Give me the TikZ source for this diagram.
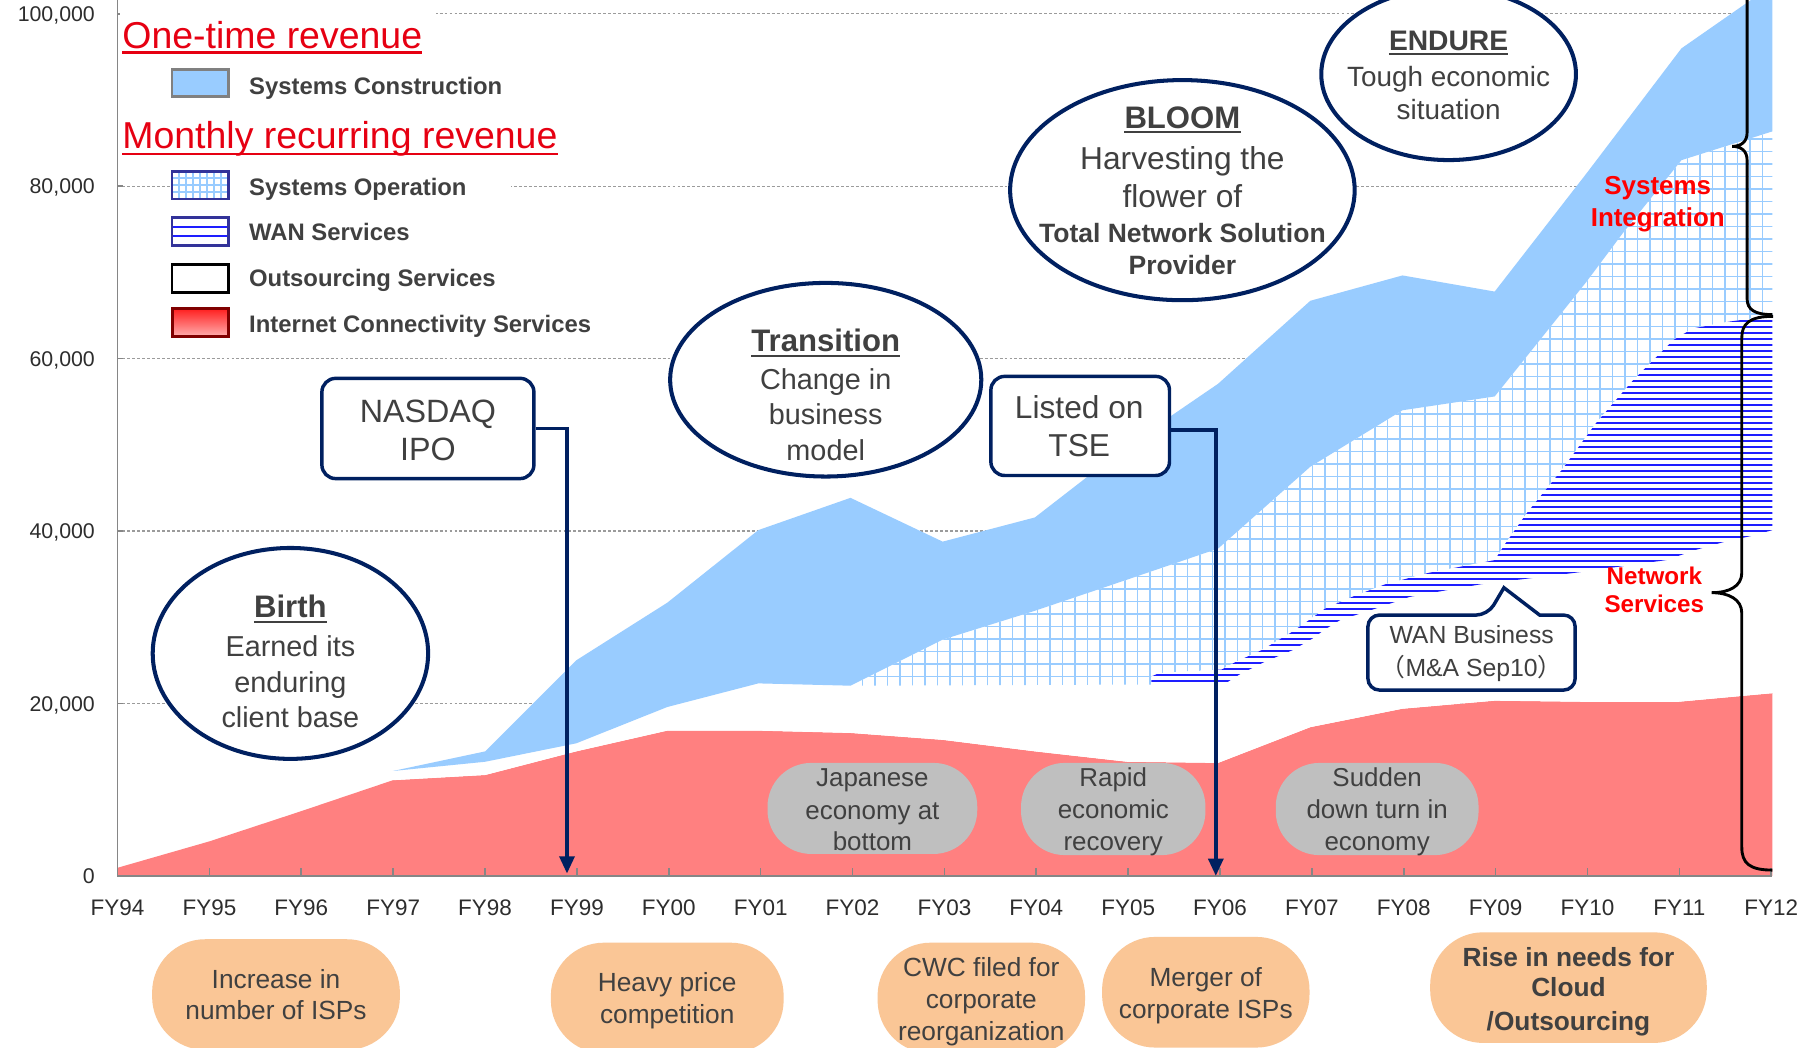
\documentclass[tikz,border=0pt]{standalone}
\usepackage{fontspec}
\setmainfont{Liberation Sans}
\newfontfamily\cjkfont{Noto Sans CJK JP}
\usetikzlibrary{arrows.meta,shapes.geometric}
\definecolor{navy}{RGB}{0,32,96}
\definecolor{txtgray}{RGB}{64,64,64}
\definecolor{axtxt}{RGB}{45,45,45}
\definecolor{sysblue}{RGB}{153,204,255}
\definecolor{icsred}{RGB}{255,128,128}
\definecolor{wanblue}{RGB}{30,30,255}
\definecolor{gridgray}{RGB}{155,155,155}
\definecolor{axisgray}{RGB}{134,134,134}
\definecolor{pillgray}{RGB}{191,191,191}
\definecolor{peach}{RGB}{250,198,150}
\definecolor{legred}{RGB}{230,0,18}
\definecolor{opborder}{RGB}{51,51,153}
\definecolor{darkred}{RGB}{128,0,0}
\definecolor{swgray}{RGB}{128,128,128}
\definecolor{brightred}{RGB}{255,0,0}
\newcommand\fs[1]{\fontsize{#1}{#1}\selectfont}
\begin{document}
\begin{tikzpicture}[x=1pt,y=-1pt,
  lbl/.style={anchor=base, inner sep=0pt, text=txtgray},
  ell/.style={ellipse, draw=navy, line width=3.5pt, fill=white, inner sep=0pt},
  callbox/.style={rectangle, rounded corners=12pt, draw=navy, line width=3pt, fill=white, inner sep=0pt},
  graypill/.style={rectangle, rounded corners=38pt, fill=pillgray, inner sep=0pt},
  peachpill/.style={rectangle, rounded corners=46pt, fill=peach, inner sep=0pt},
  gridln/.style={draw=gridgray, line width=1pt, dash pattern=on 2.5pt off 1.8pt},
  opgrid/.style={draw=sysblue, line width=1.3pt},
  wanline/.style={draw=wanblue, line width=1.6pt},
  conn/.style={draw=navy, line width=3pt, -{Triangle[width=13pt,length=15pt]}},
  bracestyle/.style={draw=black, line width=2.5pt},
  ttl/.style={draw=txtgray, line width=1.8pt},
]
\useasboundingbox (0,0) rectangle (1568,909);
\clip (0,0) rectangle (1568,909);
\fill[white] (0,0) rectangle (1568,909);

% gridlines
\foreach \v in {12,161.6,311.2,460.8,610.4} \draw[gridln] (102,\v) -- (1538,\v);

% red: internet connectivity
\fill[icsred] (102,760) -- (102,753) -- (182,730) -- (261,704) -- (341,677) -- (421,672.5) -- (500,652) -- (579,634) -- (658,634) -- (738,636) -- (818,642) -- (898,652) -- (978,661) -- (1057,662) -- (1137,631) -- (1217,615) -- (1297,608) -- (1377,609) -- (1456,609) -- (1538,601.5) -- (1538,760) -- cycle;

% outsourcing (white)
\fill[white] (341,677) -- (421,672.5) -- (500,652) -- (579,634) -- (658,634) -- (738,636) -- (818,642) -- (898,652) -- (978,661) -- (1057,662) -- (1137,631) -- (1217,615) -- (1297,608) -- (1377,609) -- (1456,609) -- (1538,601.5) -- (1538,460) -- (1520,465) -- (1497,470) -- (1472,477) -- (1446,486) -- (1367,497) -- (1285,507) -- (1256,512) -- (1223,518) -- (1194,528) -- (1163,538) -- (1150,546) -- (1139,554) -- (1122,564) -- (1097,574.5) -- (1076,585) -- (1068,590) -- (1062,594) -- (738,595) -- (658,593) -- (579,613.5) -- (500,645) -- (421,661) -- (341,669) -- cycle;

% systems operation (grid)
\begin{scope}
\clip (738,595) -- (999,594) -- (999,587) -- (1006,584) -- (1060,581) -- (1072,574.5) -- (1095,564) -- (1120,549) -- (1136,538) -- (1150,528) -- (1173,518) -- (1202,507) -- (1240,497) -- (1297,486) -- (1306,472) -- (1325,445) -- (1355,408) -- (1385,367) -- (1417,330) -- (1452,295) -- (1469,285) -- (1501,279) -- (1538,274) -- (1538,114) -- (1459,139) -- (1408,202.5) -- (1377,244) -- (1297,344) -- (1217,356) -- (1137,405) -- (1057,476) -- (978,503) -- (898,530) -- (818,555) -- cycle;
\fill[white] (700,80) rectangle (1560,620);
\foreach \k in {-25,...,50} \draw[opgrid] ({997.9+10.85*\k},90) -- ({997.9+10.85*\k},612);
\foreach \k in {-36,...,12} \draw[opgrid] (720,{478.7+10.85*\k}) -- (1550,{478.7+10.85*\k});
\end{scope}

% WAN services (horizontal lines)
\begin{scope}
\clip (999,594) -- (999,587) -- (1006,584) -- (1060,581) -- (1072,574.5) -- (1095,564) -- (1120,549) -- (1136,538) -- (1150,528) -- (1173,518) -- (1202,507) -- (1240,497) -- (1297,486) -- (1306,472) -- (1325,445) -- (1355,408) -- (1385,367) -- (1417,330) -- (1452,295) -- (1469,285) -- (1501,279) -- (1538,274) -- (1538,460) -- (1520,465) -- (1497,470) -- (1472,477) -- (1446,486) -- (1367,497) -- (1285,507) -- (1256,512) -- (1223,518) -- (1194,528) -- (1163,538) -- (1150,546) -- (1139,554) -- (1122,564) -- (1097,574.5) -- (1076,585) -- (1068,590) -- (1062,594) -- cycle;
\fill[white] (990,260) rectangle (1550,600);
\foreach \k in {-46,...,18} \draw[wanline] (990,{497+5.2*\k}) -- (1550,{497+5.2*\k});
\end{scope}

% systems construction (blue)
\fill[sysblue] (341,669) -- (421,652) -- (500,573) -- (579,523) -- (658,460) -- (738,432) -- (818,470) -- (898,449) -- (978,387) -- (1057,333) -- (1137,261) -- (1217,239) -- (1297,253) -- (1377,150) -- (1459,42) -- (1538,-13) -- (1538,114) -- (1459,139) -- (1408,202.5) -- (1377,244) -- (1297,344) -- (1217,356) -- (1137,405) -- (1057,476) -- (978,503) -- (898,530) -- (818,555) -- (738,595) -- (658,593) -- (579,613.5) -- (500,645) -- (421,661) -- cycle;

% axes
\draw[axisgray, line width=1.6pt] (102,0) -- (102,760) -- (1538,760);
\foreach \i in {0,...,18} \draw[axisgray, line width=1.4pt] ({102+79.72*\i},760) -- ++(0,-7);
\foreach \v in {12,161.6,311.2,460.8,610.4} \draw[axisgray, line width=1.4pt] (102,\v) -- (107,\v);

% y labels
\foreach \v/\t/\n in {12/{100,000}/ya,161.6/{80,000}/yb,311.2/{60,000}/yc,460.8/{40,000}/yd,610.4/{20,000}/ye,760/0/yf}
  \node[anchor=base east, inner sep=0pt, text=axtxt, font={\fs{18.5}}] (\n) at (82.5,\v+6.7) {\t};
% x labels
\foreach \i/\t in {0/FY94,1/FY95,2/FY96,3/FY97,4/FY98,5/FY99,6/FY00,7/FY01,8/FY02,9/FY03,10/FY04,11/FY05,12/FY06,13/FY07,14/FY08,15/FY09,16/FY10,17/FY11,18/FY12}
  \node[anchor=base, inner sep=0pt, text=axtxt, font={\fs{19.5}}] (fy\i) at ({102+79.72*\i},794) {\t};

% legend
\fill[white] (104,4) rectangle (378,52);
\fill[white] (199,150) rectangle (443,174);
\node[lbl, anchor=base west, text=legred, font={\fs{32.5}}] (onetime) at (106,42) {One-time revenue};
\draw[legred, line width=2.3pt] ([yshift=-3.4pt]onetime.base west) -- ([yshift=-3.4pt]onetime.base east);
\node[lbl, anchor=base west, text=legred, font={\fs{32.5}}] (monthly) at (106,128.7) {Monthly recurring revenue};
\draw[legred, line width=2.3pt] ([yshift=-4.9pt]monthly.base west) -- ([yshift=-4.9pt]monthly.base east);

\fill[sysblue] (149.3,60) rectangle (198,84);
\draw[swgray, line width=2.4pt] (149.3,60) rectangle (198,84);
\fill[white] (149.3,148.5) rectangle (198,172.7);
\begin{scope}
\clip (149.3,148.5) rectangle (198,172.7);
\foreach \k in {1,...,7} \draw[sysblue, line width=1.6pt] ({149.3+6.1*\k},148.5) -- ++(0,24.2);
\foreach \k in {1,2,3} \draw[sysblue, line width=1.6pt] (149.3,{148.5+6.05*\k}) -- ++(48.7,0);
\end{scope}
\draw[opborder, line width=2.4pt] (149.3,148.5) rectangle (198,172.7);
\fill[white] (149.3,188.6) rectangle (198,213);
\draw[wanblue, line width=1.8pt] (149.3,196.7) -- (198,196.7) (149.3,204.9) -- (198,204.9);
\draw[opborder, line width=2.4pt] (149.3,188.6) rectangle (198,213);
\draw[black, line width=2.4pt, fill=white] (149.3,229.4) rectangle (198,253.7);
\shade[top color={rgb,255:red,255;green,30;blue,30}, bottom color={rgb,255:red,255;green,175;blue,175}] (149.3,267.6) rectangle (198,292.1);
\draw[darkred, line width=2.6pt] (149.3,267.6) rectangle (198,292.1);

\node[lbl, anchor=base west, font={\bfseries\fs{20.7}}] (lg1) at (216,82.4) {Systems Construction};
\node[lbl, anchor=base west, font={\bfseries\fs{20.7}}] (lg2) at (216,170) {Systems Operation};
\node[lbl, anchor=base west, font={\bfseries\fs{20.7}}] (lg3) at (216,209) {WAN Services};
\node[lbl, anchor=base west, font={\bfseries\fs{20.7}}] (lg4) at (216,249) {Outsourcing Services};
\node[lbl, anchor=base west, font={\bfseries\fs{20.7}}] (lg5) at (216,288.7) {Internet Connectivity Services};

% ellipses
\node[ell, minimum width=239pt, minimum height=183pt] (birth) at (252,567) {};
\node[ell, minimum width=270pt, minimum height=168pt] (transition) at (716.5,329.5) {};
\node[ell, minimum width=299pt, minimum height=191pt] (bloom) at (1026,165) {};
\node[ell, minimum width=221pt, minimum height=149pt] (endure) at (1257,64.4) {};

\node[lbl, font={\bfseries\fs{27}}] (birthT) at (252,536) {Birth};
\draw[ttl] ([yshift=-3.5pt]birthT.base west) -- ([yshift=-3.5pt]birthT.base east);
\node[lbl, font={\fs{25}}] (birth1) at (252,570) {Earned its};
\node[lbl, font={\fs{25}}] (birth2) at (252,600.5) {enduring};
\node[lbl, font={\fs{25}}] (birth3) at (252,631) {client base};

\node[lbl, font={\bfseries\fs{27}}] (transT) at (716.5,305.3) {Transition};
\draw[ttl] ([yshift=-3.5pt]transT.base west) -- ([yshift=-3.5pt]transT.base east);
\node[lbl, font={\fs{25}}] (trans1) at (716.5,338.4) {Change in};
\node[lbl, font={\fs{25}}] (trans2) at (716.5,368.4) {business};
\node[lbl, font={\fs{25}}] (trans3) at (716.5,400) {model};

\node[lbl, font={\bfseries\fs{27}}] (bloomT) at (1026,111.4) {BLOOM};
\draw[ttl] ([yshift=-3.5pt]bloomT.base west) -- ([yshift=-3.5pt]bloomT.base east);
\node[lbl, font={\fs{27.5}}] (bloom1) at (1026,147.5) {Harvesting the};
\node[lbl, font={\fs{27.5}}] (bloom2) at (1026,180) {flower of};
\node[lbl, font={\bfseries\fs{23}}] (bloom3) at (1026,210.6) {Total Network Solution};
\node[lbl, font={\bfseries\fs{23}}] (bloom4) at (1026,238.6) {Provider};

\node[lbl, font={\bfseries\fs{24.5}}] (endT) at (1257,43.4) {ENDURE};
\draw[ttl] ([yshift=-3.5pt]endT.base west) -- ([yshift=-3.5pt]endT.base east);
\node[lbl, font={\fs{24.2}}] (end1) at (1257,75.2) {Tough economic};
\node[lbl, font={\fs{24.2}}] (end2) at (1257,103.6) {situation};

% boxes
\node[callbox, minimum width=184pt, minimum height=87pt] (nasdaq) at (371.3,371.8) {};
\node[callbox, minimum width=155pt, minimum height=86pt] (tse) at (937.3,369.6) {};
\node[lbl, font={\fs{28}}] (nas1) at (371.3,366.8) {NASDAQ};
\node[lbl, font={\fs{28}}] (nas2) at (371.3,399.4) {IPO};
\node[lbl, font={\fs{27.5}}] (tse1) at (936.5,363.5) {Listed on};
\node[lbl, font={\fs{27.5}}] (tse2) at (936.5,395.7) {TSE};

\coordinate (nasdaqtip) at (492,758);
\coordinate (tsetip) at (1055,760);
\draw[conn] (nasdaq.east) -| (nasdaqtip);
\draw[conn] ([yshift=-3.4pt]tse.east) -| (tsetip);

% WAN callout
\draw[navy, line width=3pt, fill=white, rounded corners=10pt] (1187,566) -- (1187,533.7) -- (1291,533.7) [sharp corners] -- (1305,510) -- (1336,533.7) [rounded corners=10pt] -- (1366.8,533.7) -- (1366.8,598.8) -- (1187,598.8) -- cycle;
\node[lbl, font={\fs{21.5}}] (wan1) at (1277,558.3) {WAN Business};
\node[lbl, font={\fs{21.5}}] (wan2) at (1277,587) {{\cjkfont （}M\&A Sep10{\cjkfont ）}};

% gray pills
\node[graypill, minimum width=182pt, minimum height=79pt] (jpn) at (757,701.5) {};
\node[graypill, minimum width=160pt, minimum height=80pt] (rapid) at (966,702) {};
\node[graypill, minimum width=176pt, minimum height=80pt] (sudden) at (1195,702) {};
\node[lbl, font={\fs{22.5}}] (jpn1) at (757,682.8) {Japanese};
\node[lbl, font={\fs{22.5}}] (jpn2) at (757,710.8) {economy at};
\node[lbl, font={\fs{22.5}}] (jpn3) at (757,738.3) {bottom};
\node[lbl, font={\fs{22.5}}] (rap1) at (966,682.6) {Rapid};
\node[lbl, font={\fs{22.5}}] (rap2) at (966,710.3) {economic};
\node[lbl, font={\fs{22.5}}] (rap3) at (966,738) {recovery};
\node[lbl, font={\fs{22.5}}] (sud1) at (1195,682.6) {Sudden};
\node[lbl, font={\fs{22.5}}] (sud2) at (1195,710.3) {down turn in};
\node[lbl, font={\fs{22.5}}] (sud3) at (1195,738) {economy};

% peach pills
\node[peachpill, minimum width=215pt, minimum height=96pt] (isps) at (239.5,863) {};
\node[peachpill, minimum width=202pt, minimum height=96pt] (price) at (579,866) {};
\node[peachpill, minimum width=180pt, minimum height=96pt] (cwc) at (851.5,866) {};
\node[peachpill, minimum width=180pt, minimum height=96pt] (merger) at (1046.3,861) {};
\node[peachpill, minimum width=240pt, minimum height=96pt] (cloud) at (1361,857) {};
\node[lbl, font={\fs{22.8}}] (isps1) at (239.5,857.6) {Increase in};
\node[lbl, font={\fs{22.8}}] (isps2) at (239.5,885) {number of ISPs};
\node[lbl, font={\fs{22.8}}] (price1) at (579,860.5) {Heavy price};
\node[lbl, font={\fs{22.8}}] (price2) at (579,888) {competition};
\node[lbl, font={\fs{22.8}}] (cwc1) at (851.5,847) {CWC filed for};
\node[lbl, font={\fs{22.8}}] (cwc2) at (851.5,875) {corporate};
\node[lbl, font={\fs{22.8}}] (cwc3) at (851.5,902.5) {reorganization};
\node[lbl, font={\fs{22.8}}] (mer1) at (1046.3,856) {Merger of};
\node[lbl, font={\fs{22.8}}] (mer2) at (1046.3,884) {corporate ISPs};
\node[lbl, font={\bfseries\fs{22.8}}] (cld1) at (1361,838.3) {Rise in needs for};
\node[lbl, font={\bfseries\fs{22.8}}] (cld2) at (1361,865) {Cloud};
\node[lbl, font={\bfseries\fs{22.8}}] (cld3) at (1361,893.8) {/Outsourcing};

% braces
\draw[bracestyle] (1538,-19) .. controls (1522,-19) and (1516,-15) .. (1516,-5) -- (1516,115) .. controls (1516,123) and (1511,127) .. (1503,127) .. controls (1511,127) and (1516,131) .. (1516,139) -- (1516,259) .. controls (1516,269) and (1523,273) .. (1538,273);
\draw[bracestyle] (1538.5,274.5) .. controls (1518,274.5) and (1511.4,281) .. (1511.4,293) -- (1511.4,497) .. controls (1511.4,509) and (1500,514.3) .. (1485.3,514.3) .. controls (1500,514.3) and (1511.4,520) .. (1511.4,532) -- (1511.4,735) .. controls (1511.4,749) and (1518,755) .. (1538,755);

\node[lbl, text=brightred, font={\bfseries\fs{22.5}}] (si1) at (1438.5,169.2) {Systems};
\node[lbl, text=brightred, font={\bfseries\fs{22.5}}] (si2) at (1438.5,196.7) {Integration};
\node[lbl, text=brightred, font={\bfseries\fs{21}}] (ns1) at (1435.5,507) {Network};
\node[lbl, text=brightred, font={\bfseries\fs{21}}] (ns2) at (1435.5,531.7) {Services};
\end{tikzpicture}
\end{document}
